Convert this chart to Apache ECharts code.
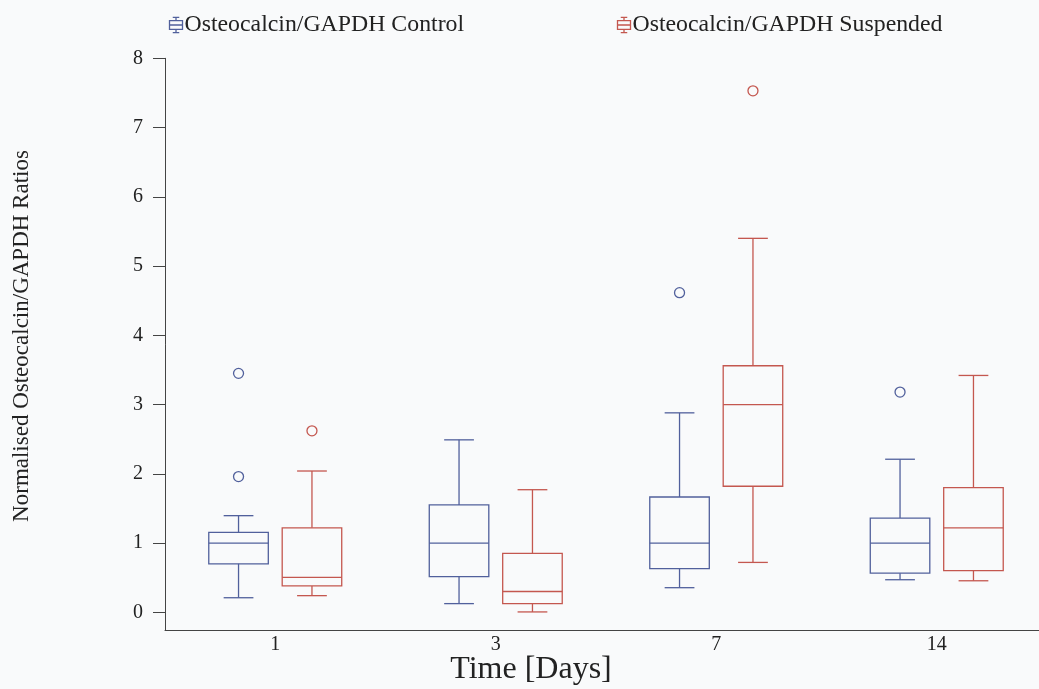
<!DOCTYPE html>
<html>
<head>
<meta charset="utf-8">
<script src="https://cdn.jsdelivr.net/npm/echarts@6/dist/echarts.min.js"></script>
<style>
html,body{margin:0;padding:0;background:#f9fafb;overflow:hidden;}
#chart{width:1047px;height:689px;}
</style>
</head>
<body>
<div id="chart"></div>
<script>
// ---- data ----
const categories = ['1', '3', '7', '14'];
const yTickValues = [0, 1, 2, 3, 4, 5, 6, 7, 8];
const seriesNames = ['Osteocalcin/GAPDH Control', 'Osteocalcin/GAPDH Suspended'];
// [low whisker, Q1, median, Q3, high whisker]
const controlBox = [
  [0.21, 0.70, 1.00, 1.155, 1.395],
  [0.125, 0.515, 1.00, 1.55, 2.49],
  [0.355, 0.63, 1.00, 1.665, 2.88],
  [0.47, 0.565, 1.00, 1.36, 2.21]
];
const suspendedBox = [
  [0.24, 0.38, 0.505, 1.22, 2.04],
  [0.005, 0.125, 0.30, 0.85, 1.77],
  [0.72, 1.82, 3.00, 3.56, 5.40],
  [0.455, 0.60, 1.22, 1.80, 3.42]
];
// [category index, value]
const controlOutliers = [[0, 3.45], [0, 1.96], [2, 4.615], [3, 3.18]];
const suspendedOutliers = [[0, 2.62], [2, 7.53]];

const BLUE = '#51609c';
const RED = '#c4574f';
const SERIF = '"Liberation Serif", "DejaVu Serif", serif';

function boxData(arr) {
  return arr.map((v, i) => [i].concat(v));
}

function boxRenderer(color, side) {
  return function (params, api) {
    const cat = api.value(0);
    const band = api.size([1, 0])[0];
    const cx = api.coord([cat, 0])[0] + side * band * 0.1665;
    const hw = band * 0.135;
    const cw = hw / 2;
    const y = i => api.coord([cat, api.value(i)])[1];
    const lo = y(1), q1 = y(2), med = y(3), q3 = y(4), hi = y(5);
    const st = { stroke: color, lineWidth: 1.3, fill: null };
    return {
      type: 'group',
      children: [
        { type: 'rect', shape: { x: cx - hw, y: q3, width: 2 * hw, height: q1 - q3 }, style: st },
        { type: 'line', shape: { x1: cx - hw, y1: med, x2: cx + hw, y2: med }, style: st },
        { type: 'line', shape: { x1: cx, y1: q3, x2: cx, y2: hi }, style: st },
        { type: 'line', shape: { x1: cx, y1: q1, x2: cx, y2: lo }, style: st },
        { type: 'line', shape: { x1: cx - cw, y1: hi, x2: cx + cw, y2: hi }, style: st },
        { type: 'line', shape: { x1: cx - cw, y1: lo, x2: cx + cw, y2: lo }, style: st }
      ]
    };
  };
}

function outlierRenderer(color, side) {
  return function (params, api) {
    const cat = api.value(0);
    const band = api.size([1, 0])[0];
    const p = api.coord([cat, api.value(1)]);
    return {
      type: 'circle',
      shape: { cx: p[0] + side * band * 0.1665, cy: p[1], r: 5 },
      style: { stroke: color, lineWidth: 1.3, fill: null }
    };
  };
}

const iconPath = 'path://M3,0L9,0M6,0L6,3M0,3L12,3L12,11L0,11ZM0,7L12,7M6,11L6,14M3,14L9,14';

function legendFor(idx, left, color) {
  return {
    left: left,
    top: 8,
    itemWidth: 13,
    itemHeight: 17,
    textStyle: { fontFamily: SERIF, fontSize: 23.8, color: '#222', padding: [0, 0, 0, -3] },
    data: [{ name: seriesNames[idx], icon: iconPath, itemStyle: { color: 'none', borderColor: color, borderWidth: 1.3 } }]
  };
}

const chart = echarts.init(document.getElementById('chart'), null, { renderer: 'canvas' });
chart.setOption({
  backgroundColor: '#f9fafb',
  animation: false,
  legend: [legendFor(0, 162, BLUE), legendFor(1, 610, RED)],
  grid: { left: 165, right: 0, top: 58.3, bottom: 59, containLabel: false },
  xAxis: {
    type: 'category',
    data: categories,
    axisLine: { onZero: false, lineStyle: { color: '#444', width: 1 } },
    axisTick: { show: false },
    axisLabel: { fontFamily: SERIF, fontSize: 20, color: '#222', margin: 5 },
    splitLine: { show: false }
  },
  yAxis: {
    type: 'value',
    min: -0.256,
    max: 8,
    axisLine: { show: true, lineStyle: { color: '#444', width: 1 } },
    axisTick: { show: true, length: 12, customValues: yTickValues, lineStyle: { color: '#444' } },
    axisLabel: { customValues: yTickValues, fontFamily: SERIF, fontSize: 20, color: '#222', margin: 22 },
    splitLine: { show: false }
  },
  graphic: [
    {
      type: 'text', x: 22, y: 336, rotation: Math.PI / 2,
      style: { text: 'Normalised Osteocalcin/GAPDH Ratios', font: '23px ' + SERIF, fill: '#222', textAlign: 'center', textVerticalAlign: 'middle' }
    },
    {
      type: 'text', x: 531, y: 670,
      style: { text: 'Time [Days]', font: '32px ' + SERIF, fill: '#222', textAlign: 'center', textVerticalAlign: 'middle' }
    }
  ],
  series: [
    {
      name: seriesNames[0], type: 'custom', itemStyle: { color: BLUE },
      renderItem: boxRenderer(BLUE, -1), data: boxData(controlBox),
      encode: { x: 0, y: [1, 2, 3, 4, 5] }
    },
    {
      name: seriesNames[1], type: 'custom', itemStyle: { color: RED },
      renderItem: boxRenderer(RED, 1), data: boxData(suspendedBox),
      encode: { x: 0, y: [1, 2, 3, 4, 5] }
    },
    {
      name: seriesNames[0], type: 'custom', itemStyle: { color: BLUE },
      renderItem: outlierRenderer(BLUE, -1), data: controlOutliers,
      encode: { x: 0, y: 1 }
    },
    {
      name: seriesNames[1], type: 'custom', itemStyle: { color: RED },
      renderItem: outlierRenderer(RED, 1), data: suspendedOutliers,
      encode: { x: 0, y: 1 }
    }
  ]
});
</script>
</body>
</html>
